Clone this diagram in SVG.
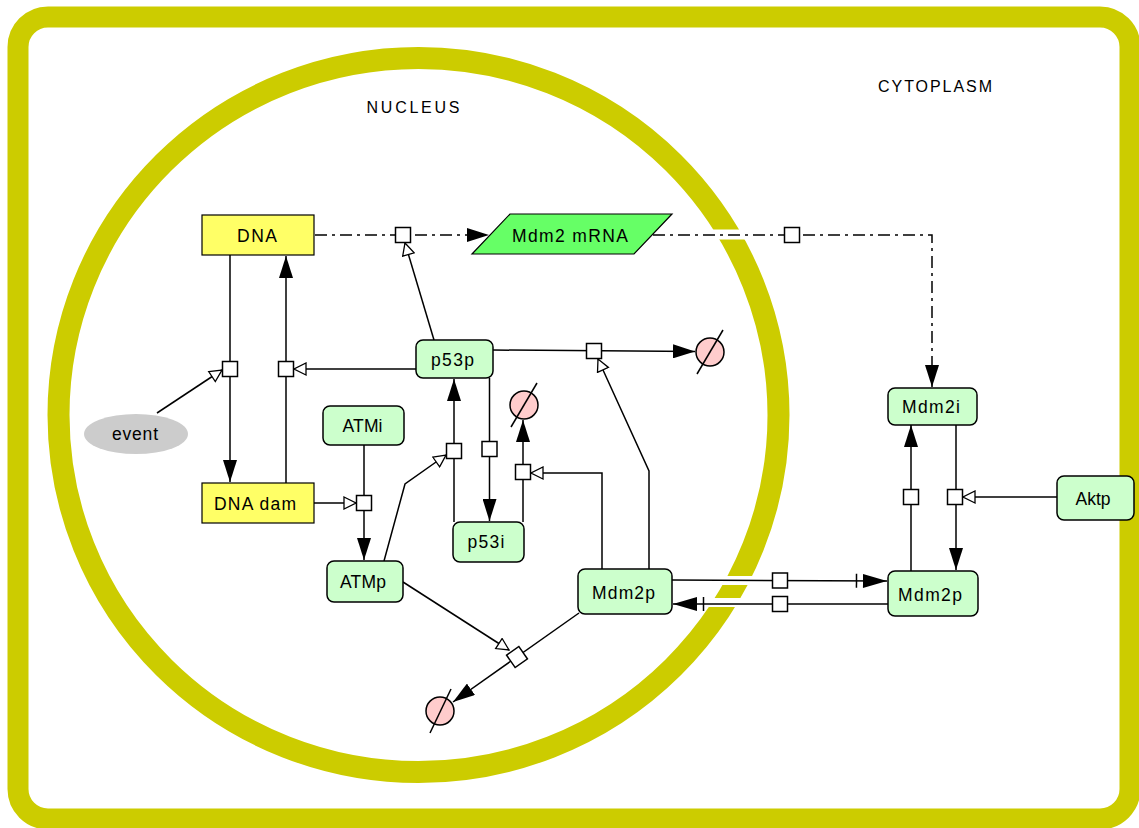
<svg xmlns="http://www.w3.org/2000/svg" width="1139" height="828" viewBox="0 0 1139 828">
<defs>
<style>
.t{font-family:"Liberation Sans",Arial,sans-serif;font-size:17.5px;fill:#000;text-anchor:middle}
.lbl{font-family:"Liberation Sans",Arial,sans-serif;font-size:16px;fill:#000;text-anchor:middle}
.pr{fill:#CCFFCC;stroke:#000;stroke-width:1.5}
.ye{fill:#FFFF66;stroke:#000;stroke-width:1.2}
.ln{fill:none;stroke:#000;stroke-width:1.5}
.dd{fill:none;stroke:#000;stroke-width:1.5;stroke-dasharray:12,5,3,5}
.ps{fill:#fff;stroke:#000;stroke-width:1.5}
.dg{fill:#FFCCCC;stroke:#000;stroke-width:1.5}
.gap{fill:#fff;stroke:none}
</style>
<marker id="arr" markerUnits="userSpaceOnUse" viewBox="0 0 22 14" refX="22" refY="7" markerWidth="22" markerHeight="14" orient="auto">
<path d="M0,0 L22,7 L0,14 z" fill="#000"/>
</marker>
<marker id="opn" markerUnits="userSpaceOnUse" viewBox="0 0 14 14" refX="13" refY="7" markerWidth="14" markerHeight="14" orient="auto">
<path d="M1,1 L13,7 L1,13 z" fill="#fff" stroke="#000" stroke-width="1.3"/>
</marker>
<marker id="trn" markerUnits="userSpaceOnUse" viewBox="0 0 32 16" refX="32" refY="8" markerWidth="32" markerHeight="16" orient="auto">
<line x1="1.5" y1="1" x2="1.5" y2="15" stroke="#000" stroke-width="1.5"/>
<path d="M8,1 L32,8 L8,15 z" fill="#000"/>
</marker>
</defs>

<g id="compartments">
<rect id="cell" x="18" y="17" width="1112" height="802" rx="30" ry="30" fill="#fff" stroke="#CCCC00" stroke-width="21"/>
<ellipse id="nucleus" cx="418.5" cy="415" rx="360" ry="357" fill="none" stroke="#CCCC00" stroke-width="22"/>
<rect class="gap" x="712" y="229.5" width="60" height="10"/>
<rect class="gap" x="685" y="576" width="70" height="9"/>
<rect class="gap" x="685" y="598" width="70" height="9"/>
<text class="lbl" x="413" y="113" textLength="93" lengthAdjust="spacing">NUCLEUS</text>
<text class="lbl" x="935" y="92" textLength="114" lengthAdjust="spacing">CYTOPLASM</text>
</g>

<g id="connectors">
<path class="dd" d="M315,235 H489" marker-end="url(#arr)"/>
<path class="dd" d="M653,235 H932 V387" marker-end="url(#arr)"/>
<path class="ln" d="M434,340 L405,243" marker-end="url(#opn)"/>
<path class="ln" d="M230,255 V482" marker-end="url(#arr)"/>
<path class="ln" d="M286,483 V256" marker-end="url(#arr)"/>
<path class="ln" d="M157,413 L222,370" marker-end="url(#opn)"/>
<path class="ln" d="M416,369 H294" marker-end="url(#opn)"/>
<path class="ln" d="M493,350 L695,351.5" marker-end="url(#arr)"/>
<path class="ln" d="M649,569 V471 L598,359" marker-end="url(#opn)"/>
<path class="ln" d="M489.5,378 V521" marker-end="url(#arr)"/>
<path class="ln" d="M454,522 V379" marker-end="url(#arr)"/>
<path class="ln" d="M384,561 L405,484 L446,455" marker-end="url(#opn)"/>
<path class="ln" d="M523,522 V420" marker-end="url(#arr)"/>
<path class="ln" d="M602,569 V473 H531" marker-end="url(#opn)"/>
<path class="ln" d="M364,445 V560" marker-end="url(#arr)"/>
<path class="ln" d="M314,503 H356" marker-end="url(#opn)"/>
<path class="ln" d="M403,582 L509,650" marker-end="url(#opn)"/>
<path class="ln" d="M579,613 L453,702" marker-end="url(#arr)"/>
<path class="ln" d="M672,580 L887,581" marker-end="url(#trn)"/>
<path class="ln" d="M888,604 H673" marker-end="url(#trn)"/>
<path class="ln" d="M911,571 V425" marker-end="url(#arr)"/>
<path class="ln" d="M956,424 V570" marker-end="url(#arr)"/>
<path class="ln" d="M1057,497 H963" marker-end="url(#opn)"/>
</g>

<g id="processes">
<rect class="ps" x="395.5" y="227.5" width="15" height="15"/>
<rect class="ps" x="784.5" y="227.5" width="15" height="15"/>
<rect class="ps" x="222.5" y="361.5" width="15" height="15"/>
<rect class="ps" x="278.5" y="361.5" width="15" height="15"/>
<rect class="ps" x="586.5" y="343.5" width="15" height="15"/>
<rect class="ps" x="356.5" y="495.5" width="15" height="15"/>
<rect class="ps" x="446.5" y="443.5" width="15" height="15"/>
<rect class="ps" x="482" y="441.5" width="15" height="15"/>
<rect class="ps" x="515.5" y="464.5" width="15" height="15"/>
<rect class="ps" x="-7.5" y="-7.5" width="15" height="15" transform="translate(517,657) rotate(-35)"/>
<rect class="ps" x="772.5" y="573" width="15" height="15"/>
<rect class="ps" x="772.5" y="596.5" width="15" height="15"/>
<rect class="ps" x="903.5" y="489.5" width="15" height="15"/>
<rect class="ps" x="947.5" y="489.5" width="15" height="15"/>
</g>

<g id="degradations">
<g id="sink1"><circle class="dg" cx="710" cy="352" r="14"/><line class="ln" x1="723" y1="330" x2="697" y2="374"/></g>
<g id="sink2"><circle class="dg" cx="524" cy="405" r="14"/><line class="ln" x1="537" y1="383" x2="511" y2="427"/></g>
<g id="sink3"><circle class="dg" cx="440" cy="711" r="14"/><line class="ln" x1="451" y1="689" x2="430" y2="733"/></g>
</g>

<g id="DNA"><rect class="ye" x="202" y="215" width="112" height="40"/><text class="t" x="257" y="242" textLength="40" lengthAdjust="spacing">DNA</text></g>
<g id="Mdm2mRNA"><polygon points="510,214 672,214 634,254 472,254" fill="#66FF66" stroke="#000" stroke-width="1.2"/><text class="t" x="570" y="242" textLength="116" lengthAdjust="spacing">Mdm2 mRNA</text></g>
<g id="p53p"><rect class="pr" x="416" y="340" width="77" height="38" rx="7"/><text class="t" x="452.5" y="366" textLength="43" lengthAdjust="spacing">p53p</text></g>
<g id="event"><ellipse cx="136" cy="434" rx="52" ry="20" fill="#CCCCCC"/><text class="t" x="135" y="440" textLength="46" lengthAdjust="spacing">event</text></g>
<g id="ATMi"><rect class="pr" x="323" y="406" width="81" height="39" rx="7"/><text class="t" x="362.5" y="432" textLength="40" lengthAdjust="spacing">ATMi</text></g>
<g id="DNAdam"><rect class="ye" x="202" y="483" width="112" height="40"/><text class="t" x="255" y="510" textLength="82" lengthAdjust="spacing">DNA dam</text></g>
<g id="ATMp"><rect class="pr" x="327" y="561" width="76" height="41" rx="7"/><text class="t" x="363" y="588" textLength="46" lengthAdjust="spacing">ATMp</text></g>
<g id="p53i"><rect class="pr" x="453" y="522" width="71" height="40" rx="7"/><text class="t" x="486" y="548" textLength="37" lengthAdjust="spacing">p53i</text></g>
<g id="Mdm2p_nuc"><rect class="pr" x="578" y="569" width="94" height="45" rx="7"/><text class="t" x="623.5" y="599" textLength="63" lengthAdjust="spacing">Mdm2p</text></g>
<g id="Mdm2i"><rect class="pr" x="888" y="388" width="89" height="37" rx="7"/><text class="t" x="931" y="413" textLength="58" lengthAdjust="spacing">Mdm2i</text></g>
<g id="Mdm2p_cyt"><rect class="pr" x="888" y="571" width="90" height="45" rx="7"/><text class="t" x="930" y="601" textLength="64" lengthAdjust="spacing">Mdm2p</text></g>
<g id="Aktp"><rect class="pr" x="1057" y="476" width="77" height="44" rx="7"/><text class="t" x="1093" y="505" textLength="35" lengthAdjust="spacing">Aktp</text></g>
</svg>
